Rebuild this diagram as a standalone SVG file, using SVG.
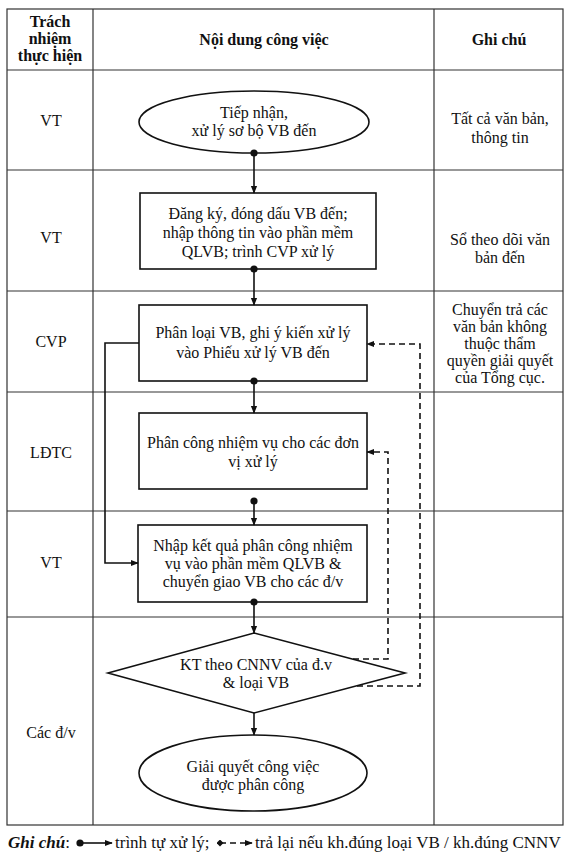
<svg xmlns="http://www.w3.org/2000/svg" width="571" height="858" viewBox="0 0 571 858">
<defs>
<style>
text{font-family:"Liberation Serif","Times New Roman",serif;font-size:16px;fill:#111;text-anchor:middle}
.b{font-weight:bold}
.lg{font-size:17px;text-anchor:start}
.grid{stroke:#333;stroke-width:1.2;fill:none}
.shape{fill:#fff;stroke:#111;stroke-width:1.6}
.flow{stroke:#111;stroke-width:1.6;fill:none}
.dash{stroke:#111;stroke-width:1.6;fill:none;stroke-dasharray:6 4}
</style>
<marker id="ah" viewBox="0 0 10 10" refX="9" refY="5" markerWidth="8" markerHeight="8" markerUnits="userSpaceOnUse" orient="auto"><path d="M0,1 L10,5 L0,9 Z" fill="#111"/></marker>
<marker id="dot" viewBox="0 0 10 10" refX="5" refY="5" markerWidth="8" markerHeight="8" markerUnits="userSpaceOnUse"><circle cx="5" cy="5" r="4.5" fill="#111"/></marker>
<marker id="dm" viewBox="0 0 10 10" refX="5" refY="5" markerWidth="7" markerHeight="7" markerUnits="userSpaceOnUse"><path d="M5,0 L10,5 L5,10 L0,5 Z" fill="#111"/></marker>
</defs>
<rect width="571" height="858" fill="#fff"/>
<g id="table">
<rect class="grid" x="7" y="9" width="556" height="816"/>
<line class="grid" x1="93" y1="9" x2="93" y2="825"/>
<line class="grid" x1="434" y1="9" x2="434" y2="825"/>
<line class="grid" x1="7" y1="70" x2="563" y2="70"/>
<line class="grid" x1="7" y1="170" x2="563" y2="170"/>
<line class="grid" x1="7" y1="291" x2="563" y2="291"/>
<line class="grid" x1="7" y1="392" x2="563" y2="392"/>
<line class="grid" x1="7" y1="511" x2="563" y2="511"/>
<line class="grid" x1="7" y1="617" x2="563" y2="617"/>
<text class="b" x="50" y="27">Trách</text>
<text class="b" x="50" y="44">nhiệm</text>
<text class="b" x="50" y="61">thực hiện</text>
<text class="b" x="264" y="45">Nội dung công việc</text>
<text class="b" x="499" y="45">Ghi chú</text>
<text x="51" y="126">VT</text>
<text x="51" y="243">VT</text>
<text x="51" y="347">CVP</text>
<text x="51" y="458">LĐTC</text>
<text x="51" y="568">VT</text>
<text x="51" y="738">Các đ/v</text>
<text x="500" y="124">Tất cả văn bản,</text>
<text x="500" y="143">thông tin</text>
<text x="500" y="245">Sổ theo dõi văn</text>
<text x="500" y="263">bản đến</text>
<text x="500" y="315">Chuyển trả các</text>
<text x="500" y="332">văn bản không</text>
<text x="500" y="349">thuộc thẩm</text>
<text x="500" y="366">quyền giải quyết</text>
<text x="500" y="383">của Tổng cục.</text>
</g>
<g id="n1">
<ellipse class="shape" cx="254" cy="122" rx="115" ry="31"/>
<text x="254" y="118">Tiếp nhận,</text>
<text x="254" y="136">xử lý sơ bộ VB đến</text>
</g>
<g id="n2">
<rect class="shape" x="140" y="193" width="236" height="76"/>
<text x="258" y="219">Đăng ký, đóng dấu VB đến;</text>
<text x="258" y="238">nhập thông tin vào phần mềm</text>
<text x="258" y="257">QLVB; trình CVP xử lý</text>
</g>
<g id="n3">
<rect class="shape" x="139" y="305" width="228" height="76"/>
<text x="253" y="338">Phân loại VB, ghi ý kiến xử lý</text>
<text x="253" y="358">vào Phiếu xử lý VB đến</text>
</g>
<g id="n4">
<rect class="shape" x="139" y="413" width="228" height="76"/>
<text x="253" y="448">Phân công nhiệm vụ cho các đơn</text>
<text x="253" y="467">vị xử lý</text>
</g>
<g id="n5">
<rect class="shape" x="138" y="525" width="229" height="77"/>
<text x="253" y="551">Nhập kết quả phân công nhiệm</text>
<text x="253" y="569">vụ vào phần mềm QLVB &amp;</text>
<text x="253" y="587">chuyển giao VB cho các đ/v</text>
</g>
<g id="n6">
<polygon class="shape" points="254,633 405,673 254,713 108,673"/>
<text x="256" y="670">KT theo CNNV của đ.v</text>
<text x="256" y="688">&amp; loại VB</text>
</g>
<g id="n7">
<ellipse class="shape" cx="253" cy="773" rx="114" ry="38"/>
<text x="253" y="772">Giải quyết công việc</text>
<text x="253" y="790">được phân công</text>
</g>
<g id="connectors">
<path class="flow" d="M254,153 V193" marker-start="url(#dot)" marker-end="url(#ah)"/>
<path class="flow" d="M254,269 V305" marker-start="url(#dot)" marker-end="url(#ah)"/>
<path class="flow" d="M254,381 V413" marker-start="url(#dot)" marker-end="url(#ah)"/>
<path class="flow" d="M254,501 V525" marker-start="url(#dot)" marker-end="url(#ah)"/>
<path class="flow" d="M254,602 V633" marker-start="url(#dot)" marker-end="url(#ah)"/>
<path class="flow" d="M254,713 V735" marker-end="url(#ah)"/>
<path class="flow" d="M139,343 H105 V563 H138" marker-end="url(#ah)"/>
<path class="dash" d="M353,659 H388 V452 H367" marker-end="url(#ah)"/>
<path class="dash" d="M357,686 H420 V344 H367" marker-end="url(#ah)"/>
</g>
<g id="legend">
<text class="lg" x="8" y="848"><tspan style="font-weight:bold;font-style:italic">Ghi chú</tspan>:</text>
<path class="flow" d="M80,843 H112" marker-start="url(#dot)" marker-end="url(#ah)"/>
<text class="lg" x="115" y="848">trình tự xử lý;</text>
<path class="dash" d="M220,843 H252" stroke-dasharray="5 4" marker-start="url(#dm)" marker-end="url(#ah)"/>
<text class="lg" x="255" y="848">trả lại nếu kh.đúng loại VB / kh.đúng CNNV</text>
</g>
</svg>
